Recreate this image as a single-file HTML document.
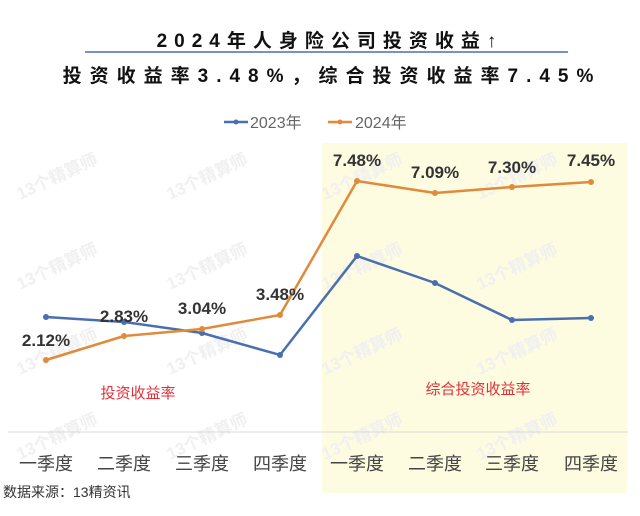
<!DOCTYPE html>
<html><head><meta charset="utf-8"><style>
body{margin:0;background:#fff;}
svg text{font-family:"Liberation Sans","Noto Sans CJK SC",sans-serif;}
</style></head><body>
<svg width="640" height="511" viewBox="0 0 640 511" xmlns="http://www.w3.org/2000/svg">
<rect width="640" height="511" fill="#fff"/>
<rect x="322" y="143" width="305" height="350" fill="#fdfbe0"/>
<g fill="#f0f0f0" font-size="17" font-weight="bold">
<text transform="translate(20,290) rotate(-25)">13个精算师</text>
<text transform="translate(170,290) rotate(-25)">13个精算师</text>
<text transform="translate(325,290) rotate(-25)">13个精算师</text>
<text transform="translate(480,290) rotate(-25)">13个精算师</text>
<text transform="translate(20,200) rotate(-25)">13个精算师</text>
<text transform="translate(170,200) rotate(-25)">13个精算师</text>
<text transform="translate(325,200) rotate(-25)">13个精算师</text>
<text transform="translate(480,200) rotate(-25)">13个精算师</text>
<text transform="translate(20,375) rotate(-25)">13个精算师</text>
<text transform="translate(170,375) rotate(-25)">13个精算师</text>
<text transform="translate(325,375) rotate(-25)">13个精算师</text>
<text transform="translate(480,375) rotate(-25)">13个精算师</text>
<text transform="translate(20,460) rotate(-25)">13个精算师</text>
<text transform="translate(170,460) rotate(-25)">13个精算师</text>
<text transform="translate(325,460) rotate(-25)">13个精算师</text>
<text transform="translate(480,460) rotate(-25)">13个精算师</text>
</g>
<text x="330" y="47" text-anchor="middle" font-size="19" font-weight="bold" fill="#111" letter-spacing="7">2024年人身险公司投资收益↑</text>
<line x1="85" y1="52" x2="568" y2="52" stroke="#4a6fb0" stroke-width="1.5"/>
<text x="332" y="82" text-anchor="middle" font-size="19" font-weight="bold" fill="#111" letter-spacing="8">投资收益率3.48%，综合投资收益率7.45%</text>
<line x1="224" y1="122" x2="248" y2="122" stroke="#4a6fb0" stroke-width="2.5"/><circle cx="236" cy="122" r="2.5" fill="#4a6fb0"/>
<text x="250" y="128" font-size="16" fill="#666">2023年</text>
<line x1="328" y1="122" x2="352" y2="122" stroke="#e08a3c" stroke-width="2.5"/><circle cx="340" cy="122" r="2.5" fill="#e08a3c"/>
<text x="355" y="128" font-size="16" fill="#666">2024年</text>
<line x1="8" y1="432" x2="628" y2="432" stroke="#d9d9d9" stroke-width="1"/>
<polyline fill="none" stroke="#4a6fb0" stroke-width="2.5" points="46,317 124,322 202,333 280,355 357,256 435,283 512,320 591,318"/>
<g fill="#4a6fb0"><circle cx="46" cy="317" r="3"/><circle cx="124" cy="322" r="3"/><circle cx="202" cy="333" r="3"/><circle cx="280" cy="355" r="3"/><circle cx="357" cy="256" r="3"/><circle cx="435" cy="283" r="3"/><circle cx="512" cy="320" r="3"/><circle cx="591" cy="318" r="3"/></g>
<polyline fill="none" stroke="#e08a3c" stroke-width="2.5" points="46,360 124,336 202,329 280,315 357,181 435,193 512,187 591,182"/>
<g fill="#e08a3c"><circle cx="46" cy="360" r="3"/><circle cx="124" cy="336" r="3"/><circle cx="202" cy="329" r="3"/><circle cx="280" cy="315" r="3"/><circle cx="357" cy="181" r="3"/><circle cx="435" cy="193" r="3"/><circle cx="512" cy="187" r="3"/><circle cx="591" cy="182" r="3"/></g>
<g font-size="17" font-weight="bold" fill="#333" text-anchor="middle">
<text x="46" y="346">2.12%</text><text x="124" y="322">2.83%</text><text x="202" y="314">3.04%</text><text x="280" y="300">3.48%</text>
<text x="357" y="166">7.48%</text><text x="435" y="178">7.09%</text><text x="512" y="173">7.30%</text><text x="591" y="166">7.45%</text>
</g>
<text x="138" y="398" text-anchor="middle" font-size="15" fill="#e0303a">投资收益率</text>
<text x="478" y="394" text-anchor="middle" font-size="15" fill="#e0303a">综合投资收益率</text>
<g font-size="18" fill="#444" text-anchor="middle">
<text x="46" y="470">一季度</text><text x="124" y="470">二季度</text><text x="202" y="470">三季度</text><text x="280" y="470">四季度</text>
<text x="357" y="470">一季度</text><text x="435" y="470">二季度</text><text x="512" y="470">三季度</text><text x="591" y="470">四季度</text>
</g>
<text x="3" y="497" font-size="14" fill="#333">数据来源：13精资讯</text>
</svg>
</body></html>
